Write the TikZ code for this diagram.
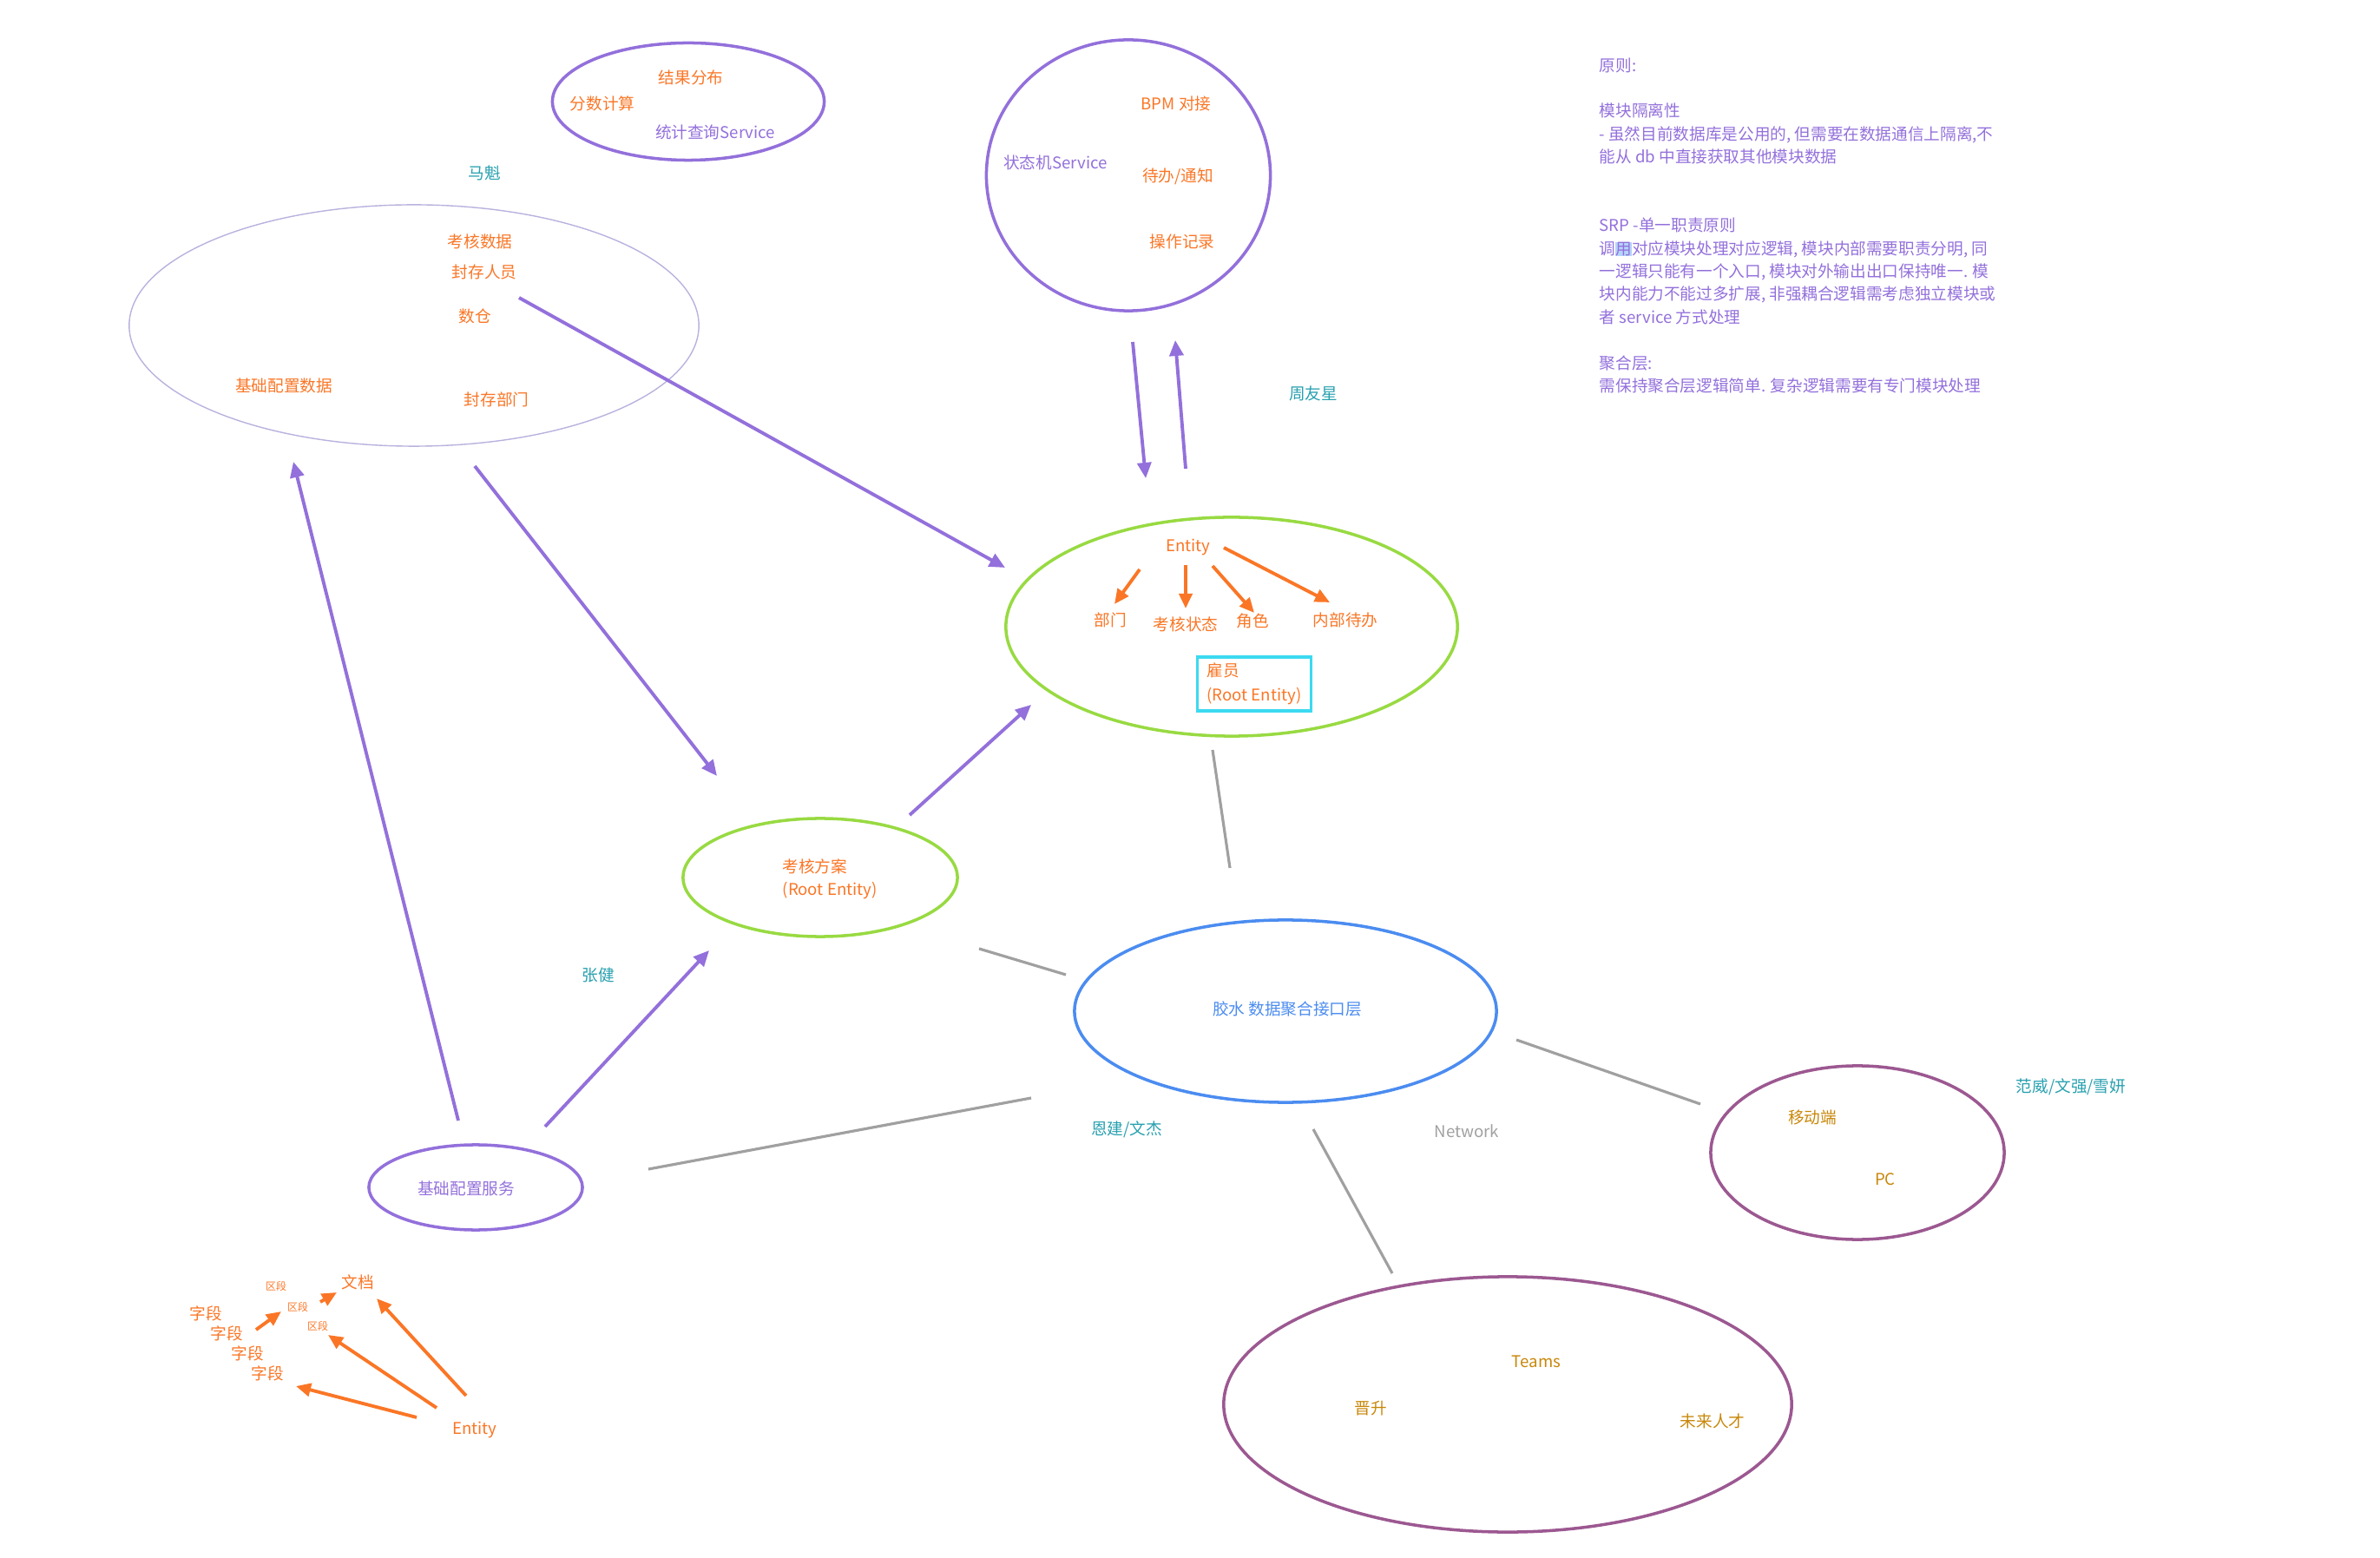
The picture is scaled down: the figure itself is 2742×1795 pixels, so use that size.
\documentclass[tikz,border=0pt]{standalone}
\usepackage{fontspec}
\setmainfont{Noto Sans CJK SC}
\usepackage{tikz}
\usetikzlibrary{arrows.meta, positioning, shapes.geometric}
\usepackage{xcolor}
\definecolor{lavender}{RGB}{147,112,219}
\definecolor{tangerine}{RGB}{250,118,38}
\definecolor{ownerteal}{RGB}{40,160,175}
\definecolor{leaf}{RGB}{152,218,66}
\definecolor{sky}{RGB}{60,218,240}
\definecolor{gluelue}{RGB}{75,140,240}
\definecolor{plumc}{RGB}{156,88,145}
\definecolor{goldc}{RGB}{200,135,10}
\definecolor{linegray}{RGB}{160,160,160}
\definecolor{mist}{RGB}{185,178,222}
\definecolor{hilite}{RGB}{180,212,250}
\newcommand{\fs}{\fontsize{5.3}{7.5}\selectfont}

\begin{document}
\begin{tikzpicture}[x=0.01cm, y=-0.01cm,
  blob/.style={ellipse, draw, line width=1pt, inner sep=0pt},
  lbl/.style={font=\fs, text=tangerine, inner sep=0pt},
  who/.style={font=\fs, text=ownerteal, inner sep=0pt},
  svc/.style={font=\fs, text=lavender, inner sep=0pt},
  tiny/.style={font=\fontsize{3.4}{4}\selectfont, text=tangerine, inner sep=0pt},
  parr/.style={-{Triangle[length=0.18cm,width=0.16cm]}, lavender, line width=1.1pt},
  oarr/.style={-{Triangle[length=0.17cm,width=0.15cm]}, tangerine, line width=1.1pt},
  link/.style={linegray, line width=0.9pt}]
  \useasboundingbox (0,0) rectangle (2742,1795);

  % Modules
  \node[blob, draw=lavender, minimum width=3.13cm, minimum height=1.35cm] (stat) at (793,117) {};
  \node[blob, draw=lavender, minimum width=3.27cm, minimum height=3.12cm] (fsm) at (1300,202) {};
  \node[blob, draw=mist, line width=0.4pt, minimum width=6.56cm, minimum height=2.78cm] (pool) at (477,375) {};
  \node[blob, draw=leaf, minimum width=5.20cm, minimum height=2.52cm] (ent) at (1419,722) {};
  \node[blob, draw=leaf, minimum width=3.16cm, minimum height=1.36cm] (plan) at (945,1011) {};
  \node[blob, draw=gluelue, minimum width=4.86cm, minimum height=2.10cm] (glue) at (1481,1165) {};
  \node[blob, draw=plumc, minimum width=3.38cm, minimum height=2.00cm] (mob) at (2140,1328) {};
  \node[blob, draw=plumc, minimum width=6.54cm, minimum height=2.94cm] (teams) at (1737,1618) {};
  \node[blob, draw=lavender, minimum width=2.46cm, minimum height=0.98cm] (basesvc) at (548,1368) {};

  % Texts in modules
  \node[lbl] (res) at (796,89) {结果分布};
  \node[lbl] (score) at (694,119) {分数计算};
  \node[svc] (query) at (824,152) {统计查询Service};
  \node[lbl] (bpm) at (1355,119) {BPM 对接};
  \node[svc] (fsmname) at (1216,187) {状态机Service};
  \node[lbl] (todo) at (1357,203) {待办/通知};
  \node[lbl] (oplog) at (1362,278) {操作记录};
  \node[lbl] (evdata) at (553,278) {考核数据};
  \node[lbl] (frzpp) at (558,313) {封存人员};
  \node[lbl] (dw) at (547,364) {数仓};
  \node[lbl] (basedata) at (327,444) {基础配置数据};
  \node[lbl] (frzdp) at (572,460) {封存部门};
  \node[lbl] (entname) at (1369,630) {Entity};
  \node[lbl] (dept) at (1279,714) {部门};
  \node[lbl] (evstate) at (1366,719) {考核状态};
  \node[lbl] (role) at (1443,715) {角色};
  \node[lbl] (intodo) at (1550,714) {内部待办};
  \node[lbl, draw=sky, line width=1pt, align=left, font=\fontsize{5.3}{8}\selectfont,
    minimum width=1.31cm, minimum height=0.62cm] (emp) at (1445,788) {雇员\\(Root Entity)};
  \node[lbl, align=left, anchor=west] (planname) at (901,1013) {考核方案\\(Root Entity)};
  \node[font=\fs, text=gluelue, inner sep=0pt] (gluename) at (1483,1162) {胶水 数据聚合接口层};
  \node[svc] (basename) at (537,1369) {基础配置服务};
  \node[lbl, text=goldc] (mobile) at (2088,1287) {移动端};
  \node[lbl, text=goldc] (pc) at (2172,1359) {PC};
  \node[lbl, text=goldc] (teamname) at (1770,1569) {Teams};
  \node[lbl, text=goldc] (promo) at (1579,1623) {晋升};
  \node[lbl, text=goldc] (talent) at (1973,1637) {未来人才};

  % Owners
  \node[who] (mk) at (558,199) {马魁};
  \node[who] (zyx) at (1513,453) {周友星};
  \node[who] (zj) at (689,1123) {张健};
  \node[who] (ej) at (1298,1301) {恩建/文杰};
  \node[who] (fw) at (2386,1252) {范威/文强/雪妍};
  \node[font=\fs, text=linegray, inner sep=0pt] (net) at (1690,1303) {Network};

  % Document sketch
  \node[lbl] (doc) at (412,1477) {文档};
  \node[tiny] (sec1) at (318,1482) {区段};
  \node[tiny] (sec2) at (343,1506) {区段};
  \node[tiny] (sec3) at (366,1528) {区段};
  \node[lbl] (fld1) at (237,1513) {字段};
  \node[lbl] (fld2) at (261,1536) {字段};
  \node[lbl] (fld3) at (285,1559) {字段};
  \node[lbl] (fld4) at (308,1582) {字段};
  \node[lbl] (docent) at (547,1647) {Entity};

  % Connector ends
  \coordinate (pool-ent-a) at (598,343);   \coordinate (pool-ent-b) at (1158,654);
  \coordinate (pool-plan-a) at (547,537);  \coordinate (pool-plan-b) at (826,894);
  \coordinate (svc-pool-a) at (528,1291);  \coordinate (svc-pool-b) at (338,532);
  \coordinate (svc-plan-a) at (628,1298);  \coordinate (svc-plan-b) at (817,1095);
  \coordinate (plan-ent-a) at (1048,939);  \coordinate (plan-ent-b) at (1188,812);
  \coordinate (fsm-ent-a) at (1305,394);   \coordinate (fsm-ent-b) at (1320,551);
  \coordinate (ent-fsm-a) at (1366,540);   \coordinate (ent-fsm-b) at (1354,392);
  \coordinate (ent-glue-a) at (1397,864);  \coordinate (ent-glue-b) at (1417,1000);
  \coordinate (plan-glue-a) at (1128,1093); \coordinate (plan-glue-b) at (1228,1123);
  \coordinate (glue-mob-a) at (1747,1198); \coordinate (glue-mob-b) at (1959,1272);
  \coordinate (glue-svc-a) at (1188,1265); \coordinate (glue-svc-b) at (747,1347);
  \coordinate (glue-tm-a) at (1513,1301);  \coordinate (glue-tm-b) at (1604,1467);

  % Purple arrows
  \draw[parr] (pool-ent-a) -- (pool-ent-b);
  \draw[parr] (pool-plan-a) -- (pool-plan-b);
  \draw[parr] (svc-pool-a) -- (svc-pool-b);
  \draw[parr] (svc-plan-a) -- (svc-plan-b);
  \draw[parr] (plan-ent-a) -- (plan-ent-b);
  \draw[parr] (fsm-ent-a) -- (fsm-ent-b);
  \draw[parr] (ent-fsm-a) -- (ent-fsm-b);

  % Gray links
  \draw[link] (ent-glue-a) -- (ent-glue-b);
  \draw[link] (plan-glue-a) -- (plan-glue-b);
  \draw[link] (glue-mob-a) -- (glue-mob-b);
  \draw[link] (glue-svc-a) -- (glue-svc-b);
  \draw[link] (glue-tm-a) -- (glue-tm-b);

  % Entity parts
  \coordinate (e1a) at (1313,656); \coordinate (e1b) at (1284,696);
  \coordinate (e2a) at (1366,651); \coordinate (e2b) at (1366,701);
  \coordinate (e3a) at (1397,652); \coordinate (e3b) at (1445,706);
  \coordinate (e4a) at (1410,631); \coordinate (e4b) at (1532,694);
  \draw[oarr] (e1a) -- (e1b);
  \draw[oarr] (e2a) -- (e2b);
  \draw[oarr] (e3a) -- (e3b);
  \draw[oarr] (e4a) -- (e4b);

  % Document arrows
  \coordinate (d1a) at (295,1532); \coordinate (d1b) at (324,1511);
  \coordinate (d2a) at (369,1500); \coordinate (d2b) at (388,1489);
  \coordinate (d3a) at (537,1608); \coordinate (d3b) at (434,1496);
  \coordinate (d4a) at (503,1622); \coordinate (d4b) at (378,1538);
  \coordinate (d5a) at (480,1633); \coordinate (d5b) at (341,1597);
  \draw[oarr] (d1a) -- (d1b);
  \draw[oarr] (d2a) -- (d2b);
  \draw[oarr] (d3a) -- (d3b);
  \draw[oarr] (d4a) -- (d4b);
  \draw[oarr] (d5a) -- (d5b);

  % Notes
  \node[svc, anchor=north west, align=left] (notes) at (1842,66) {原则:\\ \mbox{}\\
    模块隔离性\\
    - 虽然目前数据库是公用的, 但需要在数据通信上隔离,不\\
    能从 db 中直接获取其他模块数据\\ \mbox{}\\ \mbox{}\\
    SRP -单一职责原则\\
    调{\setlength{\fboxsep}{0pt}\colorbox{hilite}{用}}对应模块处理对应逻辑, 模块内部需要职责分明, 同\\
    一逻辑只能有一个入口, 模块对外输出出口保持唯一. 模\\
    块内能力不能过多扩展, 非强耦合逻辑需考虑独立模块或\\
    者 service 方式处理\\ \mbox{}\\
    聚合层:\\
    需保持聚合层逻辑简单. 复杂逻辑需要有专门模块处理};
\end{tikzpicture}
\end{document}
